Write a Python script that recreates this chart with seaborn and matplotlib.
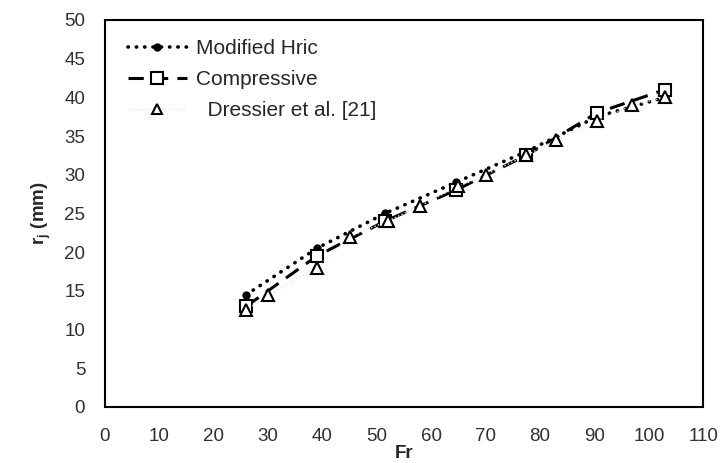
import matplotlib
matplotlib.use("Agg")
import matplotlib.pyplot as plt
import seaborn as sns
import pandas as pd

# Data
fr_model = [26, 39, 51.5, 64.5, 77.5, 90.5, 103]
hric = [14.5, 20.5, 25.0, 29.0, 33.0, 37.5, 40.0]
compressive = [13.0, 19.5, 24.0, 28.0, 32.5, 38.0, 41.0]
fr_dressier = [26, 30, 39, 45, 52, 58, 65, 70, 77.5, 83, 90.5, 97, 103]
dressier = [12.5, 14.5, 18.0, 22.0, 24.0, 26.0, 28.5, 30.0, 32.5, 34.5, 37.0, 39.0, 40.0]

x_ticks = list(range(0, 111, 10))
y_ticks = list(range(0, 51, 5))

sns.set_theme(style="white")
plt.rcParams['font.family'] = ['Liberation Sans', 'DejaVu Sans']
plt.rcParams['mathtext.fontset'] = 'custom'
plt.rcParams['mathtext.rm'] = 'Liberation Sans'
plt.rcParams['mathtext.bf'] = 'Liberation Sans:bold'
plt.rcParams['mathtext.it'] = 'Liberation Sans:italic'

fig, ax = plt.subplots(figsize=(7.22, 4.63), dpi=100)
fig.subplots_adjust(left=0.145, right=0.974, bottom=0.121, top=0.957)

df_h = pd.DataFrame({"Fr": fr_model, "r": hric})
df_c = pd.DataFrame({"Fr": fr_model, "r": compressive})
df_d = pd.DataFrame({"Fr": fr_dressier, "r": dressier})

sns.lineplot(data=df_h, x="Fr", y="r", ax=ax, color="black", linestyle=(0, (0.1, 2.2)),
             linewidth=2.6, dash_capstyle="round", marker="o", markersize=6,
             markeredgewidth=0, label="Modified Hric", sort=False)
sns.lineplot(data=df_c, x="Fr", y="r", ax=ax, color="black", linestyle=(0, (5, 3)),
             linewidth=2.2, marker="s", markersize=9, markerfacecolor="white",
             markeredgecolor="black", markeredgewidth=1.5, label="Compressive", sort=False)
sns.lineplot(data=df_d, x="Fr", y="r", ax=ax, color="#e6e6e6", linestyle=":",
             linewidth=1.0, marker="^", markersize=9, markerfacecolor="white",
             markeredgecolor="black", markeredgewidth=1.5,
             label="  Dressier et al. [21]", sort=False)

ax.set_xlim(0, 110)
ax.set_ylim(0, 50)
ax.set_xticks(x_ticks)
ax.set_yticks(y_ticks)
ax.tick_params(axis="x", labelsize=13.5, length=0, pad=15, colors="#303030")
ax.tick_params(axis="y", labelsize=13.5, length=0, pad=14, colors="#303030")
ax.set_xlabel("Fr", fontsize=13.5, fontweight="bold", labelpad=0)
ax.set_ylabel(r"$\mathbf{r_j}$ (mm)", fontsize=13.5, fontweight="bold", labelpad=8)
for s in ax.spines.values():
    s.set_visible(True)
    s.set_color("black")
    s.set_linewidth(1.5)
ax.grid(False)

leg = ax.legend(loc="upper left", frameon=False, fontsize=15, handlelength=2.85,
                bbox_to_anchor=(0.0, 1.01), borderaxespad=0.7, labelspacing=0.58,
                handletextpad=0.45)
for h, ms in zip(leg.legend_handles, [6, 8, 7]):
    h.set_markersize(ms)

fig.savefig("out.png", dpi=100)
